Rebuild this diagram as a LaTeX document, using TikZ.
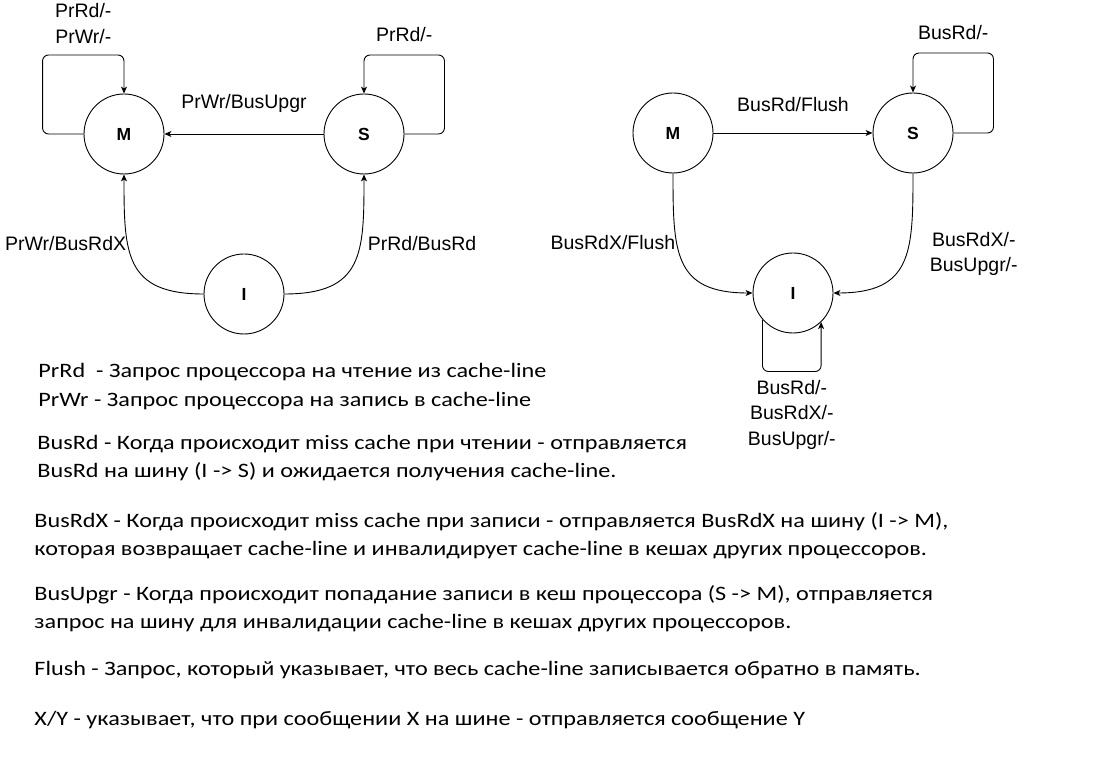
\documentclass[tikz,border=0pt]{standalone}
\usepackage{fontspec}
\setmainfont{Carlito}[FakeStretch=1.18]
\newfontfamily\arialfont{Liberation Sans}
\usepackage{tikz}
\usetikzlibrary{arrows.meta,automata,positioning}

\begin{document}
\begin{tikzpicture}[x=1pt,y=1pt,>={Stealth[length=7pt,width=6pt,inset=2pt]},line width=0.9pt,node distance=240pt,
  every state/.style={draw,circle,minimum size=80pt,inner sep=0pt,font=\arialfont\bfseries\fontsize{17.5}{17.5}\selectfont},
  lbl/.style={font=\arialfont\fontsize{19.5}{24}\selectfont,align=center,inner sep=1pt},
  note/.style={anchor=base west,font=\fontsize{20.5}{28.5}\selectfont,align=left,inner sep=0pt}]
  \path[fill=white,use as bounding box] (0,0) rectangle (1099,763);

  % processor side
  \node[state] (m1) at (124,629) {M};
  \node[state] (s1) [right of=m1] {S};
  \node[state] (i1) at (244,469) {I};

  \path[->] (s1) edge node[lbl,midway,above=20pt] {PrWr/BusUpgr} (m1)
        (i1) edge [out=180,in=-90,looseness=1.4] node[lbl,pos=0.65,left] {PrWr/BusRdX} (m1)
        (i1) edge [out=0,in=-90,looseness=1.4] node[lbl,pos=0.65,right=6pt] {PrRd/BusRd} (s1);
  \draw[->,rounded corners=6pt] (m1.west) -| ++(-41,79) -| node[lbl,pos=0.25,above=10pt] {PrRd/-\\[1.5pt]PrWr/-} (m1.north);
  \draw[->,rounded corners=6pt] (s1.east) -| ++(40,79) -| node[lbl,pos=0.25,above=12pt] {PrRd/-} (s1.north);

  % bus side
  \node[state] (m2) at (673,630) {M};
  \node[state] (s2) [right of=m2] {S};
  \node[state] (i2) at (793,470) {I};

  \path[->] (m2) edge node[lbl,midway,above=20pt] {BusRd/Flush} (s2)
        (m2) edge [out=-90,in=180,looseness=1.4] node[lbl,pos=0.35,left] {BusRdX/Flush} (i2)
        (s2) edge [out=-90,in=0,looseness=1.4] node[lbl,pos=0.43,right=22pt] {BusRdX/-\\[1.5pt]BusUpgr/-} (i2);
  \draw[->,rounded corners=6pt] (s2.east) -| ++(40,80) -| node[lbl,pos=0.25,above=12pt] {BusRd/-} (s2.north);
  \draw[->,rounded corners=6pt] (i2.221) -- ++(0,-52) -| node[lbl,pos=0.25,below=7pt] {BusRd/-\\[1.5pt]BusRdX/-\\[1.5pt]BusUpgr/-} (i2.314);

  % legend
  \node[note] (prd) at (38,356.5) {PrRd\ \ - Запрос процессора на чтение из cache-line\\PrWr - Запрос процессора на запись в cache-line};
  \node[note] (brd) at (37,285) {BusRd - Когда происходит miss cache при чтении - отправляется\\BusRd на шину (I -> S) и ожидается получения cache-line.};
  \node[note] (brdx) at (34,207.5) {BusRdX - Когда происходит miss cache при записи - отправляется BusRdX на шину (I -> M),\\которая возвращает cache-line и инвалидирует cache-line в кешах других процессоров.};
  \node[note] (bupg) at (34,134.5) {BusUpgr - Когда происходит попадание записи в кеш процессора (S -> M), отправляется\\запрос на шину для инвалидации cache-line в кешах других процессоров.};
  \node[note] (fl) at (34,88) {Flush - Запрос, который указывает, что весь cache-line записывается обратно в память.};
  \node[note] (xy) at (34,38) {X/Y - указывает, что при сообщении X на шине - отправляется сообщение Y};
\end{tikzpicture}
\end{document}
